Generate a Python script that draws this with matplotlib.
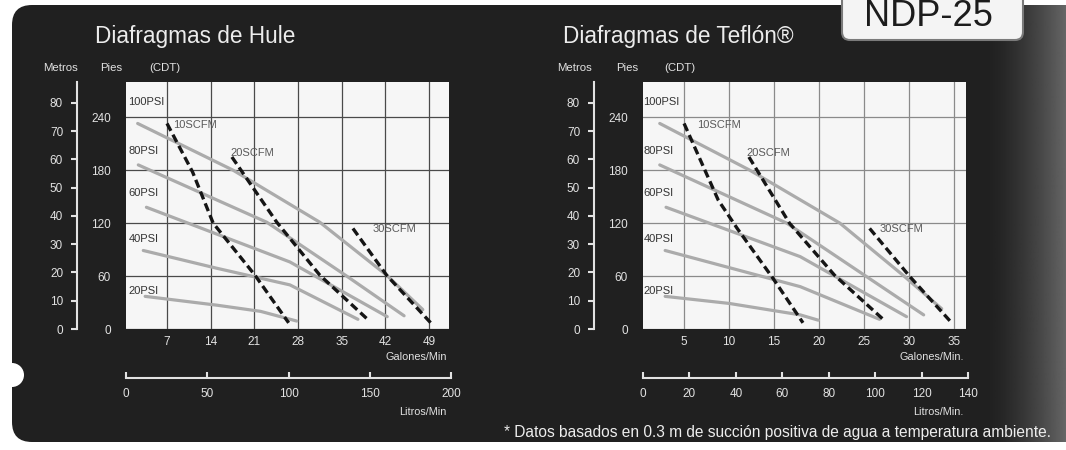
import numpy as np
import matplotlib
matplotlib.use("Agg")
import matplotlib.pyplot as plt
from matplotlib.patches import FancyBboxPatch, Circle

plt.rcParams['font.family'] = ['Liberation Sans', 'DejaVu Sans']

# ---- data (GPM vs head in feet) ----
psi_labels = ["100PSI", "80PSI", "60PSI", "40PSI", "20PSI"]
scfm_labels = ["10SCFM", "20SCFM", "30SCFM"]

ft_ticks = [0, 60, 120, 180, 240]
m_ticks = [0, 10, 20, 30, 40, 50, 60, 70, 80]

hule_gal_ticks = [7, 14, 21, 28, 35, 42, 49]
hule_lpm_ticks = [0, 50, 100, 150, 200]
hule_psi_gpm = [[2.3, 17.6, 31.5, 42.2, 48.0],
                [2.4, 23.0, 35.8, 45.0],
                [3.7, 26.7, 42.3],
                [3.2, 14.9, 26.7, 37.6],
                [3.5, 15.0, 22.0, 27.8]]
hule_psi_ft = [[233, 180, 121, 61, 22],
               [186, 121, 60, 15],
               [138, 76, 14],
               [89, 69, 50, 11],
               [37, 27, 20, 9]]
hule_scfm_gpm = [[7.0, 11.1, 14.4, 21.1, 26.5],
                 [17.4, 24.6, 31.5, 39.3],
                 [36.8, 42.2, 49.4]]
hule_scfm_ft = [[233, 178, 120, 61, 7],
                [195, 121, 61, 10],
                [114, 61, 6]]

teflon_gal_ticks = [5, 10, 15, 20, 25, 30, 35]
teflon_lpm_ticks = [0, 20, 40, 60, 80, 100, 120, 140]
teflon_psi_gpm = [[2.3, 12.3, 22.3, 29.3, 33.6],
                  [2.3, 16.4, 31.6],
                  [3.0, 17.9, 29.7],
                  [2.9, 17.9, 26.7],
                  [2.9, 10.0, 17.9, 19.9]]
teflon_psi_ft = [[233, 180, 120, 61, 23],
                 [186, 120, 16],
                 [138, 82, 14],
                 [89, 48, 11],
                 [37, 29, 16, 10]]
teflon_scfm_gpm = [[5.0, 8.8, 10.9, 14.9, 18.2],
                   [12.2, 16.7, 21.7, 27.1],
                   [25.6, 30.1, 34.8]]
teflon_scfm_ft = [[233, 146, 114, 57, 7],
                  [195, 120, 61, 11],
                  [114, 59, 6]]

W, H = 1066, 450
TXT = '#e2e2e2'
BG = '#202020'


def fx(px):
    return px / W


def fy(py):
    return 1 - py / H


fig = plt.figure(figsize=(W / 100, H / 100), dpi=100)
fig.patch.set_facecolor('white')

# background in pixel coordinates
bg = fig.add_axes([0, 0, 1, 1])
bg.set_xlim(0, W)
bg.set_ylim(H, 0)
bg.axis('off')
bg.add_patch(FancyBboxPatch((32, 25), W, 397, boxstyle="round,pad=20",
                            fc=BG, ec='none'))
grad = np.zeros((1, 80, 4))
grad[..., :3] = 0.40
grad[..., 3] = np.linspace(0, 1, 80) ** 1.5
bg.imshow(grad, extent=[985, W, 442, 5], aspect='auto', zorder=2)
bg.add_patch(Circle((12, 375), 12, fc='white', ec='none', zorder=3))
bg.set_xlim(0, W)
bg.set_ylim(H, 0)

# NDP-25 badge
bg.add_patch(FancyBboxPatch((850, -30), 165, 62, boxstyle="round,pad=8",
                            fc='#f4f4f4', ec='#7a7a7a', lw=1.5, zorder=4))
bg.text(928, 26, "NDP-25", ha='center', va='baseline', fontsize=26,
        color='#1c1c1c', zorder=5)

bg.text(1051, 432, "* Datos basados en 0.3 m de succión positiva de agua a temperatura ambiente.",
        ha='right', va='center', fontsize=11.2, color='#ededed')


def draw_panel(x0, x1, metros_x, title, title_x, gal_lim, gal_ticks,
               lpm_ticks, psi_gpm, psi_ft, scfm_gpm, scfm_ft,
               psi_lab_x, scfm_lab_pos, grid_color, gal_name, lpm_name, hdr):
    ax = fig.add_axes([fx(x0), fy(329), (x1 - x0) / W, 247 / H])
    ax.set_facecolor('#f6f6f6')
    ax.set_xlim(*gal_lim)
    ax.set_ylim(0, 280)
    ax.set_xticks(gal_ticks)
    ax.set_yticks(ft_ticks)
    ax.grid(True, color=grid_color, lw=0.9)
    ax.set_axisbelow(True)
    ax.tick_params(axis='both', length=0, colors=TXT, labelsize=8.5)
    ax.tick_params(axis='x', pad=5)
    ax.tick_params(axis='y', pad=11)
    for s in ax.spines.values():
        s.set_visible(False)

    for g, f in zip(psi_gpm, psi_ft):
        ax.plot(g, f, color='#ababab', lw=2.3, solid_capstyle='round',
                solid_joinstyle='round')
    for g, f in zip(scfm_gpm, scfm_ft):
        ax.plot(g, f, color='#151515', lw=2.4, ls=(0, (2.5, 1.3)))

    for lab, yv in zip(psi_labels, [257, 202, 154, 102, 43]):
        ax.text(psi_lab_x, yv, lab, fontsize=8, color='#333333', va='center')
    for lab, (xv, yv) in zip(scfm_labels, scfm_lab_pos):
        ax.text(xv, yv, lab, fontsize=8, color='#5a5a5a', va='center')

    # Metros axis
    mx = fig.add_axes([fx(metros_x), fy(329), 0.0001, 247 / H])
    mx.set_ylim(0, 87.4)
    mx.set_yticks(m_ticks)
    mx.set_xticks([])
    mx.patch.set_visible(False)
    for k in ['top', 'right', 'bottom']:
        mx.spines[k].set_visible(False)
    mx.spines['left'].set_color(TXT)
    mx.spines['left'].set_linewidth(1.5)
    mx.tick_params(axis='y', direction='out', length=4, width=1.5,
                   colors=TXT, labelsize=8.5, pad=6)

    # Litros axis
    lx = fig.add_axes([fx(x0), fy(378), (x1 + 2 - x0) / W, 0.0001])
    lx.set_xlim(lpm_ticks[0], lpm_ticks[-1])
    lx.set_xticks(lpm_ticks)
    lx.set_yticks([])
    lx.patch.set_visible(False)
    for k in ['top', 'right', 'left']:
        lx.spines[k].set_visible(False)
    lx.spines['bottom'].set_color(TXT)
    lx.spines['bottom'].set_linewidth(1.5)
    lx.tick_params(axis='x', direction='in', length=4.5, width=1.5,
                   colors=TXT, labelsize=8.5, pad=7)

    fig.text(fx(x1 - 2), fy(357), gal_name, ha='right', va='center',
             fontsize=7.8, color=TXT)
    fig.text(fx(x1 - 2), fy(412), lpm_name, ha='right', va='center',
             fontsize=7.8, color=TXT)
    fig.text(fx(title_x), fy(36), title, ha='left', va='center',
             fontsize=16.3, color='#ececec')
    for name, cx in zip(["Metros", "Pies", "(CDT)"], hdr):
        fig.text(fx(cx), fy(68), name, ha='center', va='center',
                 fontsize=8.2, color=TXT)


draw_panel(126, 449, 77, "Diafragmas de Hule", 95, (0.43, 52.2),
           hule_gal_ticks, hule_lpm_ticks, hule_psi_gpm, hule_psi_ft,
           hule_scfm_gpm, hule_scfm_ft, 0.8,
           [(8.0, 231), (17.1, 199), (40.0, 113)], '#4a4a4a',
           "Galones/Min", "Litros/Min", [60, 111, 165])

draw_panel(643, 966, 594, "Diafragmas de Teflón®", 563, (0.44, 36.3),
           teflon_gal_ticks, teflon_lpm_ticks, teflon_psi_gpm, teflon_psi_ft,
           teflon_scfm_gpm, teflon_scfm_ft, 0.5,
           [(6.4, 231), (11.9, 199), (26.7, 113)], '#8a8a8a',
           "Galones/Min.", "Litros/Min.", [575, 627, 680])

fig.savefig("out.png", dpi=100, facecolor=fig.get_facecolor())
